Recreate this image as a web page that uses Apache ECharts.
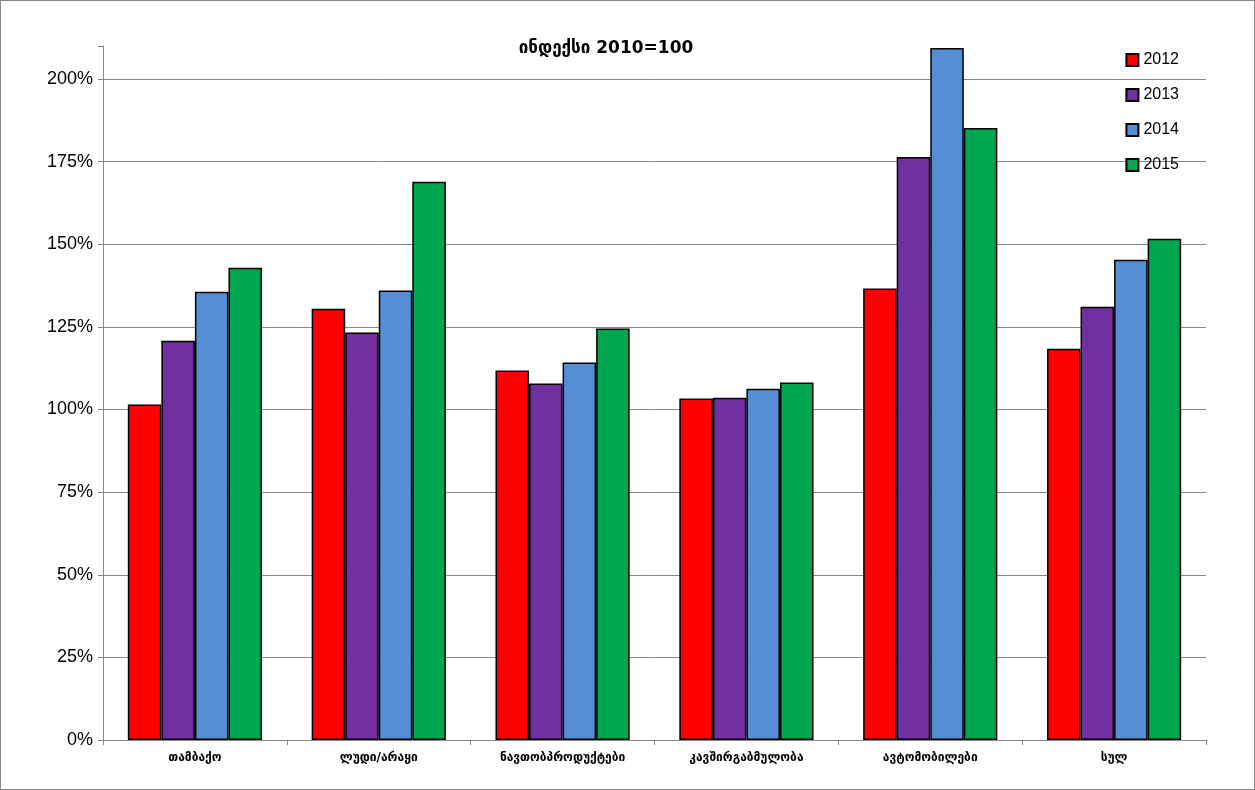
<!DOCTYPE html>
<html><head><meta charset="utf-8">
<script src="https://cdn.jsdelivr.net/npm/echarts@6/dist/echarts.min.js"></script>
<style>body{margin:0}#main{width:1255px;height:790px;box-sizing:border-box;border:1px solid #888}</style>
</head><body><div id="main"></div>
<script>
const categories = ["თამბაქო", "ლუდი/არაყი", "ნავთობპროდუქტები", "კავშირგაბმულობა", "ავტომობილები", "სულ"];
const years = ["2012", "2013", "2014", "2015"];
const values2012 = [101.5, 130.5, 111.8, 103.3, 136.6, 118.4];
const values2013 = [120.8, 123.3, 107.9, 103.6, 176.4, 131.1];
const values2014 = [135.6, 136.0, 114.2, 106.3, 209.4, 145.3];
const values2015 = [142.9, 168.9, 124.5, 108.2, 185.2, 151.7];
const colors = ["#ff0000", "#7030a0", "#558ed5", "#00a550"];

let myChart = echarts.init(document.getElementById("main"));
myChart.setOption({
  title: { text: "ინდექსი 2010=100", left: 600, top: 34, textAlign: "center",
    textStyle: { fontFamily: "DejaVu Sans", fontSize: 17, fontWeight: "bold", color: "#000" } },
  legend: { orient: "vertical", right: 70, top: 46, itemGap: 19, itemWidth: 12, itemHeight: 12, icon: "rect",
    textStyle: { fontFamily: "Liberation Sans", fontSize: 16, color: "#000" } },
  grid: { left: 102, right: 48, top: 45, bottom: 49 },
  xAxis: { type: "category", data: categories,
    axisLine: { lineStyle: { color: "#888" } }, axisTick: { show: true, lineStyle: { color: "#888" } },
    axisLabel: { color: "#000", fontFamily: "DejaVu Sans", fontSize: 12, fontWeight: "bold", margin: 12 } },
  yAxis: { type: "value", min: 0, max: 210, interval: 25,
    axisLine: { show: true, lineStyle: { color: "#888" } }, axisTick: { show: true, lineStyle: { color: "#888" } },
    splitLine: { showMaxLine: false, lineStyle: { color: "#888" } },
    axisLabel: { color: "#000", fontFamily: "Liberation Sans", fontSize: 18, margin: 10,
      formatter: v => v % 25 === 0 ? v + "%" : "" } },
  series: [values2012, values2013, values2014, values2015].map((d, i) => ({
    name: years[i], type: "bar", data: d, barGap: "0%", barCategoryGap: "27%",
    itemStyle: { color: colors[i], borderColor: "#000", borderWidth: 1.5 }
  }))
});
</script></body></html>
